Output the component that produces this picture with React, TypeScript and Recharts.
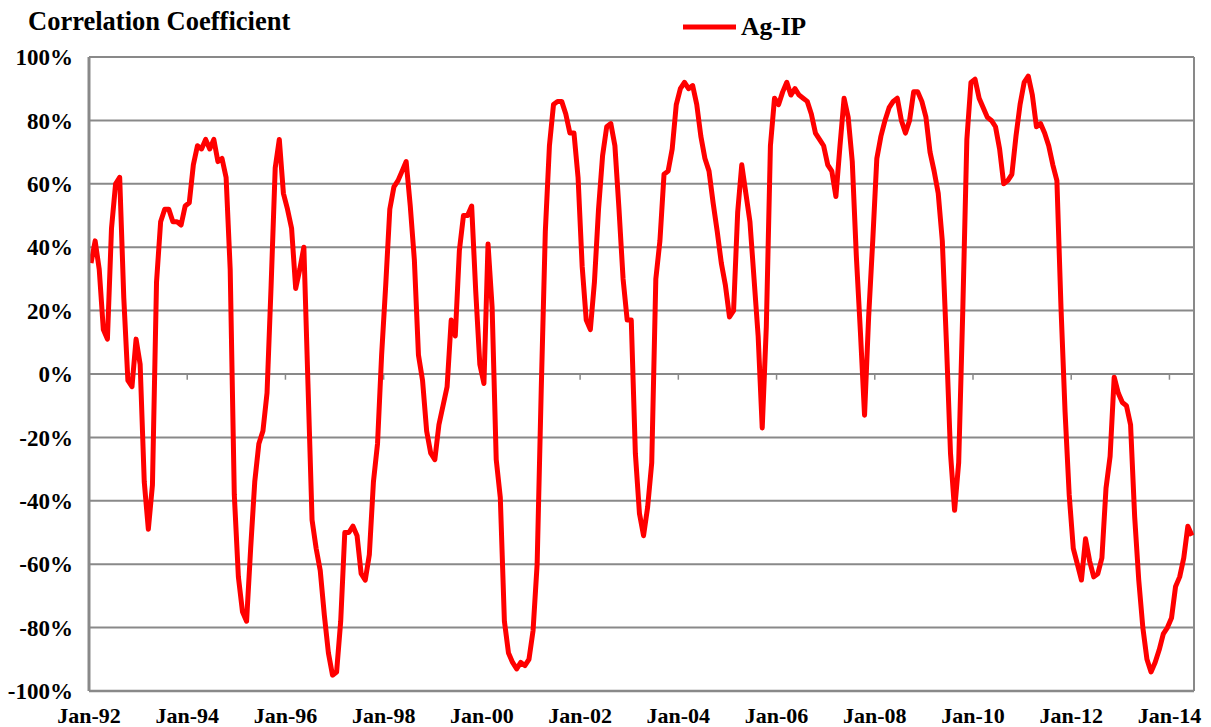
import React from 'react'
import { LineChart, Line, XAxis, YAxis, CartesianGrid, ReferenceLine, Legend } from 'recharts'

const TICK_LABELS = ['Jan-92', 'Jan-94', 'Jan-96', 'Jan-98', 'Jan-00', 'Jan-02', 'Jan-04', 'Jan-06', 'Jan-08', 'Jan-10', 'Jan-12', 'Jan-14']
const Y_TICKS = [-100, -80, -60, -40, -20, 0, 20, 40, 60, 80, 100]
const MONTHS_PER_TICK = 24

// monthly Ag-IP correlation (%), Jan-92 .. Jun-14
const AG_IP = [
  35, 42, 33, 14, 11, 46, 60, 62, 24, -2, -4, 11,
  3, -34, -49, -35, 29, 48, 52, 52, 48, 48, 47, 53,
  54, 66, 72, 71, 74, 71, 74, 67, 68, 62, 33, -38,
  -64, -75, -78, -55, -34, -22, -18, -6, 28, 65, 74, 57,
  52, 46, 27, 33, 40, -3, -46, -55, -62, -76, -88, -95,
  -94, -78, -50, -50, -48, -51, -63, -65, -57, -34, -22, 6,
  28, 52, 59, 61, 64, 67, 53, 36, 6, -2, -18, -25,
  -27, -16, -10, -4, 17, 12, 39, 50, 50, 53, 26, 3,
  -3, 41, 21, -27, -39, -78, -88, -91, -93, -91, -92, -90,
  -81, -60, -5, 45, 72, 85, 86, 86, 82, 76, 76, 62,
  34, 17, 14, 29, 52, 69, 78, 79, 72, 52, 30, 17,
  17, -25, -44, -51, -42, -28, 30, 42, 63, 64, 71, 85,
  90, 92, 90, 91, 85, 75, 68, 64, 54, 45, 35, 28,
  18, 20, 51, 66, 57, 48, 30, 12, -17, 15, 72, 87,
  85, 89, 92, 88, 90, 88, 87, 86, 82, 76, 74, 72,
  66, 64, 56, 72, 87, 81, 67, 37, 13, -13, 18, 42,
  68, 75, 80, 84, 86, 87, 80, 76, 80, 89, 89, 86,
  81, 70, 64, 57, 42, 10, -25, -43, -28, 20, 74, 92,
  93, 87, 84, 81, 80, 78, 71, 60, 61, 63, 75, 85,
  92, 94, 88, 78, 79, 76, 72, 66, 61, 21, -12, -38,
  -55, -60, -65, -52, -59, -64, -63, -58, -36, -26, -1, -6,
  -9, -10, -16, -45, -65, -80, -90, -94, -91, -87, -82, -80,
  -77, -67, -64, -58, -48, -51,
]

const FONT = "'Liberation Serif', 'Times New Roman', serif"
const GRID = '#898989'

const data = AG_IP.map((v, i) => ({ idx: i, agip: v }))
const xTicks = TICK_LABELS.map((_, k) => k * MONTHS_PER_TICK - 0.5)
const xMax = AG_IP.length - 0.5

const xTickStyle = { fill: '#000', fontSize: 22, fontWeight: 700, fontFamily: FONT }
const yTickStyle = { ...xTickStyle, fontSize: 23 }

function LegendBox() {
  return (
    <svg width={140} height={36}>
      <line x1={0} x2={53} y1={17} y2={17} stroke="#ff0000" strokeWidth={5} />
      <text x={58} y={25} fontSize={25.5} fontWeight={700} fontFamily={FONT} fill="#000">
        Ag-IP
      </text>
    </svg>
  )
}

export default function App() {
  return (
    <div style={{ position: 'absolute', left: 0, top: 0, width: 1211, height: 727, background: '#fff' }}>
      <div
        style={{
          position: 'absolute',
          left: 28,
          top: 8,
          fontFamily: FONT,
          fontWeight: 700,
          fontSize: 26.5,
          lineHeight: '26.5px',
          whiteSpace: 'nowrap',
          zIndex: 2,
        }}
      >
        Correlation Coefficient
      </div>
      <LineChart width={1211} height={727} data={data} margin={{ top: 57, right: 17, bottom: 0, left: 0 }}>
        <CartesianGrid vertical={false} stroke={GRID} strokeWidth={2} />
        <XAxis
          dataKey="idx"
          type="number"
          domain={[-0.5, xMax]}
          ticks={xTicks}
          allowDataOverflow
          interval={0}
          tickFormatter={(v: number) => TICK_LABELS[Math.round((v + 0.5) / MONTHS_PER_TICK)]}
          tickLine={false}
          tickMargin={10}
          axisLine={{ stroke: GRID, strokeWidth: 2.5 }}
          height={36}
          tick={xTickStyle}
        />
        <YAxis
          domain={[-100, 100]}
          ticks={Y_TICKS}
          interval={0}
          width={89}
          tickFormatter={(v: number) => `${v}%`}
          tickLine={false}
          tickMargin={10}
          axisLine={{ stroke: GRID, strokeWidth: 3 }}
          tick={yTickStyle}
        />
        <ReferenceLine x={xMax} stroke={GRID} strokeWidth={2} />
        {xTicks.slice(1).map((t) => (
          <ReferenceLine
            key={t}
            segment={[
              { x: t, y: 0 },
              { x: t, y: -1.8 },
            ]}
            stroke={GRID}
            strokeWidth={1.5}
          />
        ))}
        <Legend
          layout="vertical"
          align="center"
          verticalAlign="middle"
          wrapperStyle={{ top: 10, left: 683, width: 140, height: 36 }}
          content={() => <LegendBox />}
        />
        <Line
          type="linear"
          dataKey="agip"
          name="Ag-IP"
          stroke="#ff0000"
          strokeWidth={5}
          strokeLinejoin="round"
          dot={false}
          activeDot={false}
          isAnimationActive={false}
        />
      </LineChart>
    </div>
  )
}
